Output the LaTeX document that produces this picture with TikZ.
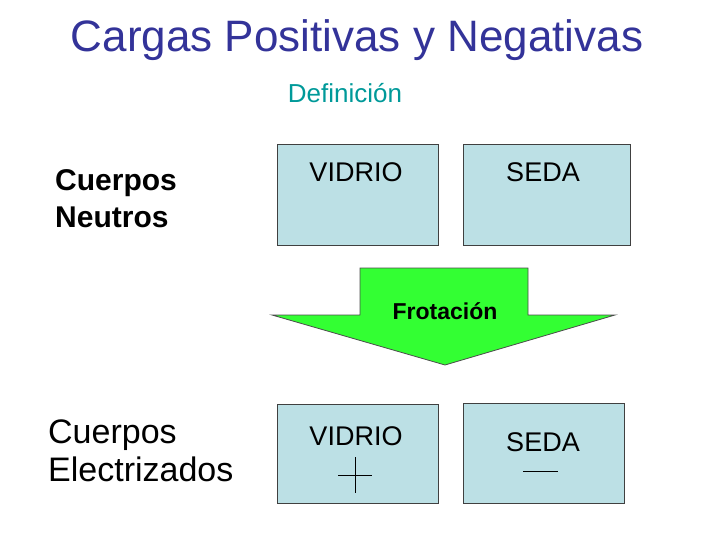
\documentclass[tikz,border=0pt]{standalone}
\usepackage{fontspec}
\setmainfont{Liberation Sans}
\definecolor{boxfill}{HTML}{BCE0E5}
\definecolor{titleblue}{HTML}{333399}
\definecolor{defteal}{HTML}{009999}
\definecolor{arrgreen}{HTML}{33FF33}
\begin{document}
\begin{tikzpicture}[x=1pt,y=-1pt,
  card/.style={draw=black!75,line width=1pt,fill=boxfill},
  lbl/.style={font=\fontsize{27}{27}\selectfont,anchor=base},
  side/.style={align=left,anchor=base west,inner sep=0pt}]
\useasboundingbox (0,0) rectangle (720,540);
\node[font=\fontsize{44}{44}\selectfont,text=titleblue,anchor=base] (title) at (357,52) {Cargas Positivas y Negativas};
\node[font=\fontsize{26}{26}\selectfont,text=defteal,anchor=base] (def) at (345,103) {Definición};
\node[side,font=\bfseries\fontsize{30}{37}\selectfont] (neu) at (55,228) {Cuerpos\\Neutros};
\node[side,font=\fontsize{34}{38}\selectfont] (ele) at (48,481) {Cuerpos\\Electrizados};
\draw[card] (277,145) rectangle (438,245);
\draw[card] (463,145) rectangle (630,245);
\node[lbl] (v1) at (356,182) {VIDRIO};
\node[lbl] (s1) at (543,182) {SEDA};
\draw[fill=arrgreen,draw=black!70,line width=0.8pt] (360,268) -- (528,268) -- (528,315) -- (615,315) -- (445,365) -- (272,315) -- (360,315) -- cycle;
\node[font=\bfseries\fontsize{23}{23}\selectfont,anchor=base] (fro) at (445,319) {Frotación};
\draw[card] (277,404) rectangle (438,503);
\draw[card] (463,403) rectangle (624,503);
\node[lbl] (v2) at (356,445) {VIDRIO};
\node[lbl] (s2) at (543,451) {SEDA};
\draw[line width=0.8pt] (338,475) -- (372,475) (355,457) -- (355,493);
\draw[line width=0.8pt] (523,471) -- (558,471);
\end{tikzpicture}
\end{document}
